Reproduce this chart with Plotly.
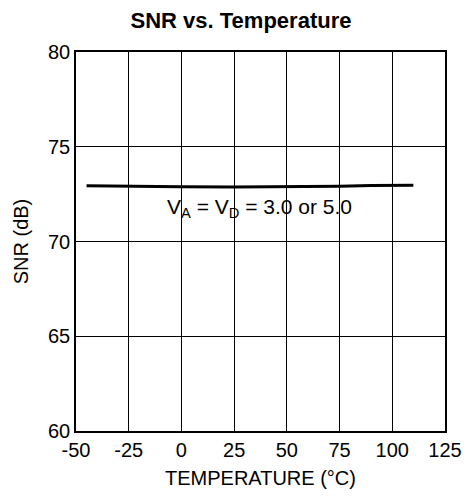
import plotly.graph_objects as go

temps = [-45, -25, 0, 25, 50, 75, 90, 110]
snr = [72.94, 72.91, 72.89, 72.88, 72.89, 72.92, 72.95, 72.97]
x_ticks = [-50, -25, 0, 25, 50, 75, 100, 125]
x_tick_labels = ["-50", "-25", "0", "25", "50", "75", "100", "125"]
y_ticks = [60, 65, 70, 75, 80]
y_tick_labels = ["60", "65", "70", "75", "80"]

font = "Liberation Sans, Arial, sans-serif"
fsize = 20

fig = go.Figure()
fig.add_trace(go.Scatter(x=temps, y=snr, mode="lines",
                         line=dict(color="black", width=3), showlegend=False))

fig.add_annotation(x=37, y=71.78, xref="x", yref="y",
                   text="V<sub>A</sub> = V<sub>D</sub> = 3.0 or 5.0",
                   showarrow=False, font=dict(family=font, size=21, color="black"))

axis_common = dict(showline=True, linecolor="black", linewidth=1.5, mirror=True,
                   showgrid=True, gridcolor="black", gridwidth=1, zeroline=False,
                   ticks="", tickfont=dict(family=font, size=fsize, color="black"))

fig.update_xaxes(range=[-50, 125], tickvals=x_ticks, ticktext=x_tick_labels, **axis_common,
                 title=dict(text="TEMPERATURE (°C)", font=dict(family=font, size=fsize, color="black"), standoff=11))
fig.update_yaxes(range=[60, 80], tickvals=y_ticks, ticktext=y_tick_labels, **axis_common,
                 title=dict(text="SNR (dB)", font=dict(family=font, size=fsize, color="black"), standoff=14))

fig.update_layout(
    width=466, height=490,
    margin=dict(l=67, r=25, t=44, b=67),
    paper_bgcolor="white", plot_bgcolor="white",
    title=dict(text="<b>SNR vs. Temperature</b>", x=0.5, xanchor="center", y=0.975, yanchor="middle",
               font=dict(family=font, size=22, color="black")),
)

fig.write_html("out.html")
